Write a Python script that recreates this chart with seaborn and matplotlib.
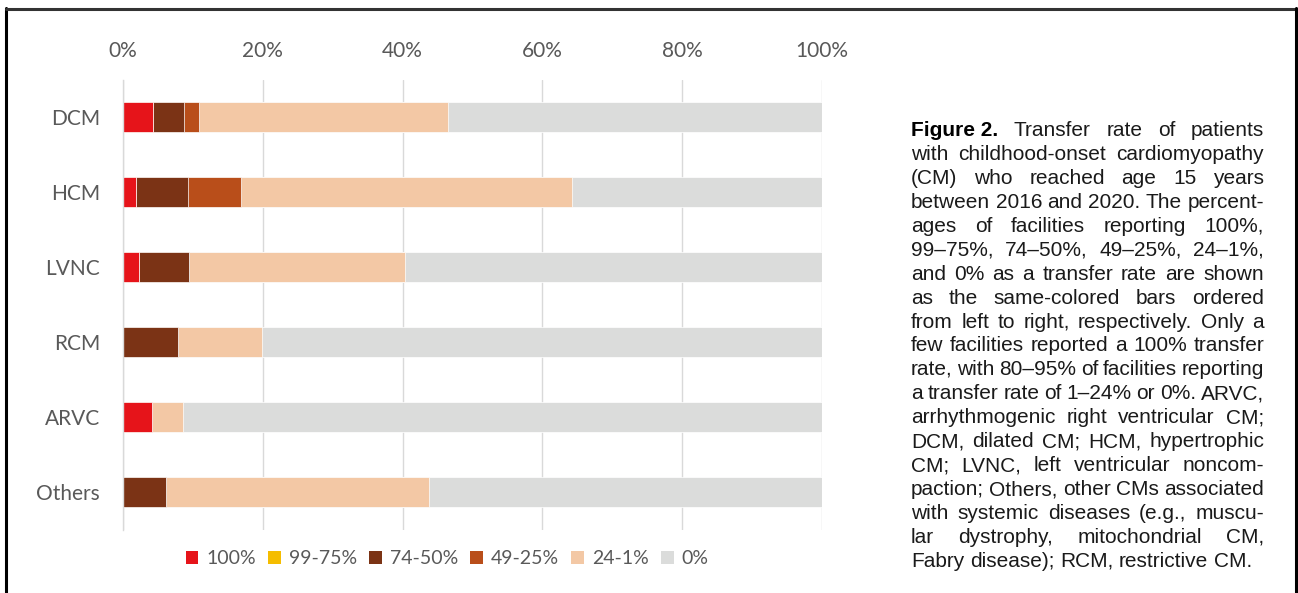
import numpy as np
import pandas as pd
import matplotlib
matplotlib.use("Agg")
import matplotlib.pyplot as plt
import seaborn as sns
from matplotlib.patches import Patch
from matplotlib.lines import Line2D

# ---------------- data ----------------
categories = ["DCM", "HCM", "LVNC", "RCM", "ARVC", "Others"]
levels = ["100%", "99-75%", "74-50%", "49-25%", "24-1%", "0%"]
colors = ["#E6141A", "#F5BD00", "#7B3315", "#B94E1A", "#F3C8A5", "#DBDCDB"]

v100 = [4.3, 1.8, 2.3, 0.0, 4.2, 0.0]
v99_75 = [0.0, 0.0, 0.0, 0.0, 0.0, 0.0]
v74_50 = [4.4, 7.5, 7.1, 7.9, 0.0, 6.1]
v49_25 = [2.2, 7.6, 0.0, 0.0, 0.0, 0.0]
v24_1 = [35.6, 47.3, 31.0, 12.0, 4.4, 37.7]
v0 = [53.5, 35.8, 59.6, 80.1, 91.4, 56.2]

xticks = [0, 20, 40, 60, 80, 100]
xticklabels = ["0%", "20%", "40%", "60%", "80%", "100%"]

caption_lines = [
    "Figure 2.|Transfer rate of patients",
    "with childhood-onset cardiomyopathy",
    "(CM) who reached age 15 years",
    "between 2016 and 2020. The percent-",
    "ages of facilities reporting 100%,",
    "99\u201375%, 74\u201350%, 49\u201325%, 24\u20131%,",
    "and 0% as a transfer rate are shown",
    "as the same-colored bars ordered",
    "from left to right, respectively. Only a",
    "few facilities reported a 100% transfer",
    "rate, with 80\u201395% of facilities reporting",
    "a transfer rate of 1\u201324% or 0%. ARVC,",
    "arrhythmogenic right ventricular CM;",
    "DCM, dilated CM; HCM, hypertrophic",
    "CM; LVNC, left ventricular noncom-",
    "paction; Others, other CMs associated",
    "with systemic diseases (e.g., muscu-",
    "lar dystrophy, mitochondrial CM,",
    "Fabry disease); RCM, restrictive CM.",
]

# ---------------- style ----------------
sns.set_theme(style="white")
plt.rcParams["font.family"] = ["Lato", "DejaVu Sans"]
GRAY_TXT = "#595959"
GRID = "#d9d9d9"

W, H = 1298, 593
fig = plt.figure(figsize=(W / 100, H / 100), dpi=100)
fig.patch.set_facecolor("white")

ax_left, ax_right = 123, 822
ax_top, ax_bottom = 79.5, 529.5
ax = fig.add_axes([ax_left / W, 1 - ax_bottom / H,
                   (ax_right - ax_left) / W, (ax_bottom - ax_top) / H])

series = np.array([v100, v99_75, v74_50, v49_25, v24_1, v0])
cum = np.cumsum(series, axis=0)

for i in reversed(range(len(levels))):
    df = pd.DataFrame({"cat": categories, "val": cum[i]})
    sns.barplot(data=df, x="val", y="cat", order=categories, color=colors[i],
                saturation=1, orient="h", width=0.4, errorbar=None,
                edgecolor="white", linewidth=0.5, ax=ax)

ax.set_xlim(0, 100)
ax.set_ylim(len(categories) - 0.5, -0.5)
ax.set_xlabel("")
ax.set_ylabel("")

ax.xaxis.tick_top()
ax.set_xticks(xticks)
ax.set_xticklabels(xticklabels)
ax.tick_params(axis="x", length=0, pad=13, labelsize=15, colors=GRAY_TXT)
ax.tick_params(axis="y", which="major", length=0, pad=16.5, labelsize=15,
               colors=GRAY_TXT)
ax.set_yticks(np.arange(-0.5, len(categories), 1.0), minor=True)
ax.tick_params(axis="y", which="minor", length=5, width=1, color=GRID)

ax.grid(axis="x", color=GRID, lw=1)
ax.grid(axis="y", visible=False)
ax.set_axisbelow(True)
for s in ["top", "right", "bottom"]:
    ax.spines[s].set_visible(False)
ax.spines["left"].set_color(GRID)
ax.spines["left"].set_linewidth(1)

# ---------------- legend ----------------
handles = [Patch(facecolor=c, edgecolor="none", label=l) for c, l in zip(colors, levels)]
leg = fig.legend(handles=handles, loc="center", ncol=6,
                 bbox_to_anchor=(447 / W, 1 - 559 / H),
                 frameon=False, fontsize=14, handlelength=0.65,
                 handleheight=0.65, handletextpad=0.4, columnspacing=0.64)
for t in leg.get_texts():
    t.set_color(GRAY_TXT)

# ---------------- caption (justified) ----------------
renderer = fig.canvas.get_renderer()
cap_font = dict(family=["Liberation Sans", "DejaVu Sans"], size=15.0, color="#1a1a1a")
bold_font = dict(family=["Liberation Sans Narrow", "Liberation Sans", "DejaVu Sans"],
                 size=15.0, weight="bold", color="black")
x0, x1 = 911, 1264
y0, dy = 136, 23.94

probe1 = fig.text(0, 0, "a a", **cap_font)
probe2 = fig.text(0, 0, "aa", **cap_font)
space_w = probe1.get_window_extent(renderer).width - probe2.get_window_extent(renderer).width
probe1.remove()
probe2.remove()

for li, line in enumerate(caption_lines):
    y = y0 + li * dy
    tokens = []
    if "|" in line:
        head, rest = line.split("|")
        tokens.append((head, bold_font))
        tokens += [(w, cap_font) for w in rest.split(" ")]
    else:
        tokens = [(w, cap_font) for w in line.split(" ")]
    texts = []
    widths = []
    for word, fp in tokens:
        t = fig.text(x0 / W, 1 - y / H, word, ha="left", va="baseline", **fp)
        texts.append(t)
        widths.append(t.get_window_extent(renderer).width)
    last = li == len(caption_lines) - 1
    if last or len(tokens) == 1:
        gap = space_w
    else:
        gap = max((x1 - x0 - sum(widths)) / (len(tokens) - 1), space_w * 0.6)
    xpos = x0
    for t, w in zip(texts, widths):
        t.set_x(xpos / W)
        xpos += w + gap

# ---------------- frame lines ----------------
fig.add_artist(Line2D([6 / W, 6 / W], [0, 1 - 8 / H], transform=fig.transFigure,
                      color="black", lw=2.2))
fig.add_artist(Line2D([6 / W, 1296 / W], [1 - 9 / H, 1 - 9 / H], transform=fig.transFigure,
                      color="#333333", lw=2.2))
fig.add_artist(Line2D([1296 / W, 1296 / W], [0, 1 - 8 / H], transform=fig.transFigure,
                      color="black", lw=2.2))

fig.savefig("out.png", dpi=100)
